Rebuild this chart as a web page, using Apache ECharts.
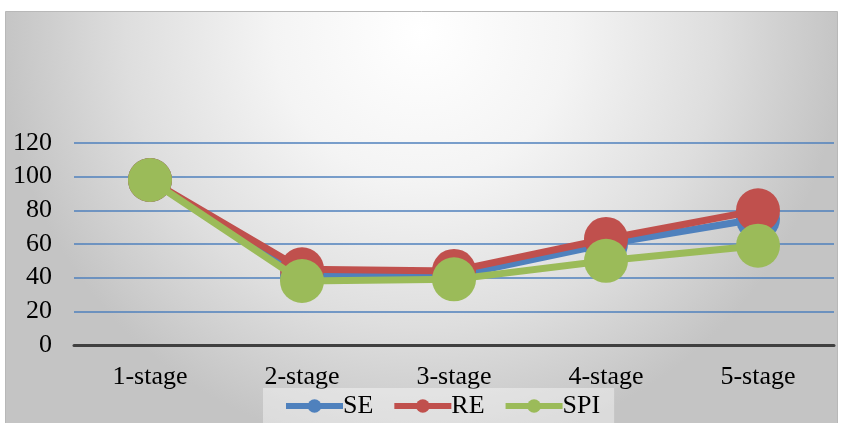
<!DOCTYPE html>
<html>
<head>
<meta charset="utf-8">
<script src="https://cdn.jsdelivr.net/npm/echarts@6/dist/echarts.min.js"></script>
<style>
  html, body { margin: 0; padding: 0; background: #fff; }
  #main { width: 843px; height: 423px; }
</style>
</head>
<body>
<div id="main"></div>
<script>
// 类别与数据
const stages = ['1-stage', '2-stage', '3-stage', '4-stage', '5-stage'];
const seData = [98, 41, 41, 60, 75];
const reData = [98, 45, 44, 63, 80];
const spiData = [98, 38, 39, 50, 59];
const yTicks = [0, 20, 40, 60, 80, 100, 120];

const colors = ['#4f81bd', '#c0504d', '#9bbb59'];
const font = '"Liberation Serif", "Times New Roman", serif';

// 生成折线系列
const makeSeries = (name, data, color, z) => ({
    name: name,
    type: 'line',
    data: data,
    symbol: 'circle',
    symbolSize: 44,
    z: z,
    lineStyle: { width: 7, color: color },
    itemStyle: { color: color },
    emphasis: { disabled: true }
})

const chart = echarts.init(document.getElementById('main'), null, { renderer: 'canvas' });

const option = {
    animation: false,
    color: colors,
    graphic: [{
        type: 'rect',
        z: -100,
        shape: { x: 5.5, y: 11.5, width: 832, height: 420 },
        style: {
            fill: new echarts.graphic.RadialGradient(0.5, 0.05, 1.0, [
                { offset: 0, color: '#ffffff' },
                { offset: 0.35, color: '#f4f4f4' },
                { offset: 0.7, color: '#dedede' },
                { offset: 1, color: '#c4c4c4' }
            ]),
            stroke: '#b8b8b8',
            lineWidth: 1
        }
    }],
    grid: { left: 74, right: 9, top: 143, bottom: 78 },
    legend: {
        bottom: -10,
        left: 263,
        backgroundColor: 'rgba(255,255,255,0.4)',
        padding: [5, 14, 14, 20],
        itemGap: 18,
        itemWidth: 57,
        itemHeight: 17,
        lineStyle: { width: 6 },
        textStyle: { fontFamily: font, fontSize: 26, color: '#000', padding: [0, 0, 0, -5] },
        data: ['SE', 'RE', 'SPI']
    },
    xAxis: {
        type: 'category',
        data: stages,
        axisLine: { lineStyle: { color: '#404040', width: 3 } },
        axisTick: { show: false },
        axisLabel: { fontFamily: font, fontSize: 26, color: '#000', margin: 19 }
    },
    yAxis: {
        type: 'value',
        min: yTicks[0],
        max: yTicks[yTicks.length - 1],
        interval: 20,
        axisLine: { show: false },
        axisTick: { show: false },
        axisLabel: { fontFamily: font, fontSize: 26, color: '#000', margin: 22 },
        splitLine: { lineStyle: { color: '#4f81bd', width: 1.5 } }
    },
    series: [
        makeSeries('SE', seData, colors[0], 2),
        makeSeries('RE', reData, colors[1], 3),
        makeSeries('SPI', spiData, colors[2], 4)
    ]
};

chart.setOption(option);
</script>
</body>
</html>
